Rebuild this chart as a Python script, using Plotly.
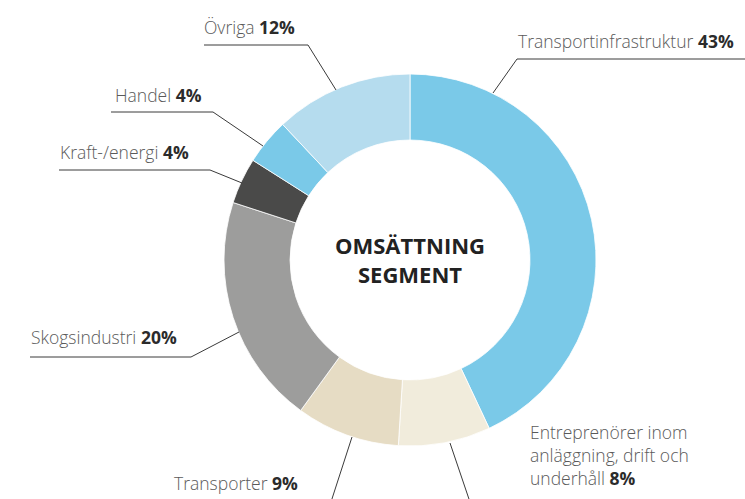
import plotly.graph_objects as go

W, H = 745, 499

segments = ["Transportinfrastruktur", "Entreprenörer inom anläggning, drift och underhåll",
            "Transporter", "Skogsindustri", "Kraft-/energi", "Handel", "Övriga"]
shares = [43, 8, 9, 20, 4, 4, 12]
colors = ["#7ac9e8", "#f1ecdc", "#e6dcc4", "#9d9d9c", "#4a4a49", "#7ac9e8", "#b5dcee"]

def px(x):
    return x / W

def py(y):
    return 1 - y / H

fig = go.Figure(go.Pie(
    labels=segments, values=shares, sort=False, direction="clockwise", rotation=0,
    hole=0.645, textinfo="none", hoverinfo="skip",
    marker=dict(colors=colors, line=dict(color="white", width=0.8)),
    domain=dict(x=[px(224), px(596)], y=[py(446), py(74)]),
    showlegend=False,
))

LIGHT = "#5a5a5a"
BOLD = "#2b2b2b"
FONT = "Open Sans"
FS = 17.5

def lbl(name, pct):
    return f"<span style='color:{LIGHT}'>{name}</span> <b style='color:{BOLD}'>{pct}%</b>"

label_specs = [
    (lbl("Transportinfrastruktur", shares[0]), 516, 41, [(745, 59), (517, 59), (493, 93)]),
    (lbl("Övriga", shares[6]), 202, 27, [(204, 45), (308, 45), (336, 90)]),
    (lbl("Handel", shares[5]), 113, 95, [(111, 112), (213, 112), (263, 146)]),
    (lbl("Kraft-/energi", shares[4]), 58, 152, [(59, 170), (210, 170), (242, 183)]),
    (lbl("Skogsindustri", shares[3]), 29, 337, [(30, 357), (191, 357), (239, 332)]),
    (lbl("Transporter", shares[2]), 172, 483, [(352, 437), (330, 505)]),
]

annotations = []
shapes = []
for text, x, y, pts in label_specs:
    annotations.append(dict(text=text, x=px(x), y=py(y), xref="paper", yref="paper",
                            xanchor="left", yanchor="middle", showarrow=False,
                            font=dict(family=FONT, size=FS, color=LIGHT, weight=300)))
    path = "M " + " L ".join(f"{px(a)},{py(b)}" for a, b in pts)
    shapes.append(dict(type="path", path=path, xref="paper", yref="paper",
                       line=dict(color="#3a3a3a", width=1)))

ent_lines = [f"<span style='color:{LIGHT}'>Entreprenörer inom</span>",
             f"<span style='color:{LIGHT}'>anläggning, drift och</span>",
             f"<span style='color:{LIGHT}'>underhåll</span> <b style='color:{BOLD}'>{shares[1]}%</b>"]
for i, t in enumerate(ent_lines):
    annotations.append(dict(text=t, x=px(528), y=py(432 + 23 * i), xref="paper", yref="paper",
                            xanchor="left", yanchor="middle", showarrow=False,
                            font=dict(family=FONT, size=FS, color=LIGHT, weight=300)))
shapes.append(dict(type="path", path=f"M {px(450)},{py(443)} L {px(471)},{py(505)}",
                   xref="paper", yref="paper", line=dict(color="#3a3a3a", width=1)))

annotations.append(dict(text="<b>OMSÄTTNING<br>SEGMENT</b>", x=px(410), y=py(259),
                        xref="paper", yref="paper", xanchor="center", yanchor="middle",
                        showarrow=False, align="center",
                        font=dict(family=FONT, size=22, color="#222222")))

fig.update_layout(width=W, height=H, margin=dict(l=0, r=0, t=0, b=0),
                  paper_bgcolor="white", plot_bgcolor="white",
                  annotations=annotations, shapes=shapes)

fig.write_html("out.html", config={"displayModeBar": False},
               post_script="document.body.style.margin='0';document.body.style.overflow='hidden';")
